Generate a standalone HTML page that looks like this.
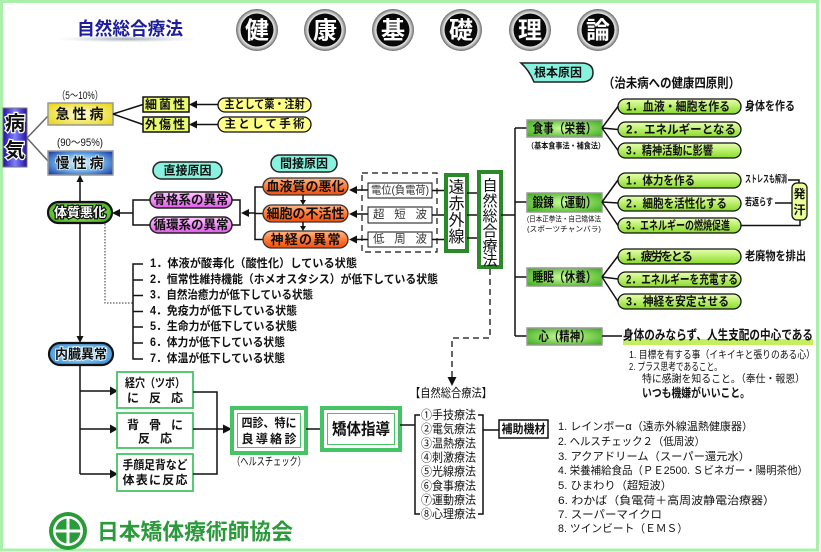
<!DOCTYPE html>
<html>
<head>
<meta charset="utf-8">
<style>
html,body{margin:0;padding:0;background:#fff;}
svg{display:block;}
text{font-family:"Liberation Sans","Noto Sans CJK JP",sans-serif;dominant-baseline:central;fill:#111;}
.b{font-weight:bold;}
.c{text-anchor:middle;}
.ln{stroke:#111;stroke-width:1.5;fill:none;}
</style>
</head>
<body>
<svg width="821" height="552" viewBox="0 0 821 552" xmlns="http://www.w3.org/2000/svg">
<defs>
  <radialGradient id="gy" cx="0.5" cy="0.5" r="0.7"><stop offset="0" stop-color="#ffffe0"/><stop offset="1" stop-color="#e8d400"/></radialGradient>
  <radialGradient id="gb" cx="0.5" cy="0.5" r="0.7"><stop offset="0" stop-color="#e8fbff"/><stop offset="0.5" stop-color="#70b0e8"/><stop offset="1" stop-color="#1030a0"/></radialGradient>
  <linearGradient id="gv" x1="0" y1="0" x2="1" y2="0"><stop offset="0" stop-color="#2010a0"/><stop offset="0.5" stop-color="#8080ff"/><stop offset="1" stop-color="#2010a0"/></linearGradient>
  <radialGradient id="gg" cx="0.5" cy="0.5" r="0.7"><stop offset="0" stop-color="#d0ffa0"/><stop offset="1" stop-color="#38a818"/></radialGradient>
  <linearGradient id="gp" x1="0" y1="0" x2="0" y2="1"><stop offset="0" stop-color="#eaffb0"/><stop offset="1" stop-color="#88dc28"/></linearGradient>
  <linearGradient id="go" x1="0" y1="0" x2="0" y2="1"><stop offset="0" stop-color="#ffb888"/><stop offset="0.5" stop-color="#ff7a38"/><stop offset="1" stop-color="#f05010"/></linearGradient>
  <linearGradient id="gpk" x1="0" y1="0" x2="0" y2="1"><stop offset="0" stop-color="#ffc8ff"/><stop offset="1" stop-color="#e058e8"/></linearGradient>
  <radialGradient id="gdk" cx="0.5" cy="0.5" r="0.7"><stop offset="0" stop-color="#b8ff78"/><stop offset="1" stop-color="#30a010"/></radialGradient>
  <radialGradient id="gbl" cx="0.5" cy="0.5" r="0.7"><stop offset="0" stop-color="#c8f4ff"/><stop offset="1" stop-color="#1c78d0"/></radialGradient>
  <radialGradient id="gs" cx="0.5" cy="0.5" r="0.5"><stop offset="0.78" stop-color="#f4f4f4"/><stop offset="0.9" stop-color="#b0b0b0"/><stop offset="1" stop-color="#666"/></radialGradient>
  <radialGradient id="gsh" cx="0.5" cy="0.5" r="0.5"><stop offset="0" stop-color="#8890a0" stop-opacity="0.8"/><stop offset="1" stop-color="#c0c8d0" stop-opacity="0"/></radialGradient>
</defs>

<!-- frame -->
<rect x="1.5" y="1.5" width="816" height="548.5" fill="#fff" stroke="#aaf0aa" stroke-width="3"/>

<!-- header -->
<ellipse cx="127" cy="39" rx="70" ry="3.5" fill="url(#gsh)"/>
<text x="130" y="29" class="c" style="font-size:18px;fill:#1c1c9c;font-weight:bold" textLength="106" lengthAdjust="spacingAndGlyphs">自然総合療法</text>

<g>
  <circle cx="257" cy="30" r="21" fill="url(#gs)"/><circle cx="257" cy="30" r="16.5" fill="#080808"/>
  <text x="257" y="31" class="c b" style="font-size:24px;fill:#fff">健</text>
  <circle cx="325" cy="30" r="21" fill="url(#gs)"/><circle cx="325" cy="30" r="16.5" fill="#080808"/>
  <text x="325" y="31" class="c b" style="font-size:24px;fill:#fff">康</text>
  <circle cx="393" cy="30" r="21" fill="url(#gs)"/><circle cx="393" cy="30" r="16.5" fill="#080808"/>
  <text x="393" y="31" class="c b" style="font-size:24px;fill:#fff">基</text>
  <circle cx="461" cy="30" r="21" fill="url(#gs)"/><circle cx="461" cy="30" r="16.5" fill="#080808"/>
  <text x="461" y="31" class="c b" style="font-size:24px;fill:#fff">礎</text>
  <circle cx="530" cy="30" r="21" fill="url(#gs)"/><circle cx="530" cy="30" r="16.5" fill="#080808"/>
  <text x="530" y="31" class="c b" style="font-size:24px;fill:#fff">理</text>
  <circle cx="598" cy="30" r="21" fill="url(#gs)"/><circle cx="598" cy="30" r="16.5" fill="#080808"/>
  <text x="598" y="31" class="c b" style="font-size:24px;fill:#fff">論</text>
</g>

<!-- 病気 -->
<rect x="3" y="108" width="24" height="59" fill="url(#gv)" stroke="#777" stroke-width="1"/>
<text x="15" y="124" class="c b" style="font-size:20px;paint-order:stroke;stroke:#fff;stroke-width:2.5">病</text>
<text x="15" y="151" class="c b" style="font-size:20px;paint-order:stroke;stroke:#fff;stroke-width:2.5">気</text>
<path d="M27,138 L48,116 M27,138 L48,161" stroke="#666" stroke-width="1.5" fill="none"/>

<text x="80" y="96" class="c" style="font-size:11px" textLength="46" lengthAdjust="spacingAndGlyphs">（5～10%）</text>
<rect x="48" y="103" width="65" height="22" fill="url(#gy)" stroke="#999" stroke-width="1.5"/>
<text x="81" y="114" class="c b" style="font-size:14px;letter-spacing:3px">急性病</text>

<text x="80" y="143" class="c" style="font-size:11px" textLength="46" lengthAdjust="spacingAndGlyphs">(90～95%)</text>
<rect x="48" y="151" width="65" height="24" fill="url(#gb)" stroke="#999" stroke-width="1.5"/>
<text x="81" y="163" class="c b" style="font-size:14px;letter-spacing:3px;paint-order:stroke;stroke:#e8f8ff;stroke-width:1.5">慢性病</text>

<path class="ln" d="M113,114 L143,104.5 M113,114 L143,124.5"/>
<rect x="143" y="97" width="46" height="15" fill="#e8f870" stroke="#111" stroke-width="1.5"/>
<text x="166" y="104.5" class="c b" style="font-size:12px;letter-spacing:2px">細菌性</text>
<rect x="143" y="117" width="46" height="15" fill="#e8f870" stroke="#111" stroke-width="1.5"/>
<text x="166" y="124.5" class="c b" style="font-size:12px;letter-spacing:2px">外傷性</text>

<path class="ln" d="M218,104.5 H195 M218,124.5 H195"/>
<polygon points="189,104.5 197,100.5 197,108.5" fill="#111"/>
<polygon points="189,124.5 197,120.5 197,128.5" fill="#111"/>
<rect x="218" y="98" width="93" height="14" rx="7" fill="#ffff88" stroke="#111" stroke-width="1.3"/>
<text x="264.5" y="105" class="c b" style="font-size:11.5px" textLength="80" lengthAdjust="spacingAndGlyphs">主として薬・注射</text>
<rect x="218" y="117" width="93" height="15" rx="7.5" fill="#ffff88" stroke="#111" stroke-width="1.3"/>
<text x="264.5" y="124.5" class="c b" style="font-size:11.5px" textLength="80">主として手術</text>

<!-- 直接原因 / 間接原因 -->
<rect x="153" y="162" width="69" height="17" rx="8.5" fill="#88f2de" stroke="#222" stroke-width="1.5"/>
<text x="187.5" y="170.5" class="c b" style="font-size:12px">直接原因</text>
<rect x="271" y="155" width="66" height="17" rx="8.5" fill="#88f2de" stroke="#222" stroke-width="1.5"/>
<text x="304" y="163.5" class="c b" style="font-size:12px">間接原因</text>

<rect x="150" y="192" width="82" height="16" rx="8" fill="url(#gpk)" stroke="#222" stroke-width="1.5"/>
<text x="191" y="200" class="c b" style="font-size:12.5px">骨格系の異常</text>
<rect x="150" y="217" width="82" height="16" rx="8" fill="url(#gpk)" stroke="#222" stroke-width="1.5"/>
<text x="191" y="225" class="c b" style="font-size:12.5px">循環系の異常</text>

<path class="ln" d="M150,200 H133 V225 H150 M133,213 H118"/>
<polygon points="112,213 120,209 120,217" fill="#111"/>
<path class="ln" d="M232,200 H240 V225 H232 M255,213 H248"/>
<polygon points="241,213 249,209 249,217" fill="#111"/>
<path class="ln" d="M263,187 H255 V239.5 H263 M255,213.5 H263"/>

<!-- 体質悪化 -->
<rect x="48" y="202" width="64" height="21" rx="10.5" fill="url(#gdk)" stroke="#111" stroke-width="2.2"/>
<text x="80" y="212.5" class="c b" style="font-size:13px;fill:#fff;paint-order:stroke;stroke:#111;stroke-width:2.5">体質悪化</text>
<path class="ln" d="M80,202 V181"/>
<polygon points="80,175 76.5,182 83.5,182" fill="#111"/>
<path class="ln" d="M80,223 V337"/>
<polygon points="80,343 76.5,336 83.5,336" fill="#111"/>
<path d="M105,224 V303 H133" stroke="#333" stroke-width="1" stroke-dasharray="1.5,1.5" fill="none"/>

<!-- orange pills -->
<rect x="263" y="178" width="85" height="17" rx="8.5" fill="url(#go)" stroke="#333" stroke-width="1.3"/>
<text x="305.5" y="186.5" class="c b" style="font-size:13px">血液質の悪化</text>
<rect x="263" y="205" width="85" height="17" rx="8.5" fill="url(#go)" stroke="#333" stroke-width="1.3"/>
<text x="305.5" y="213.5" class="c b" style="font-size:13px">細胞の不活性</text>
<rect x="263" y="231" width="85" height="17" rx="8.5" fill="url(#go)" stroke="#333" stroke-width="1.3"/>
<text x="305.5" y="239.5" class="c b" style="font-size:13px" textLength="70">神経の異常</text>
<path class="ln" d="M303,195 V201 M303,222 V228" stroke-width="1.2"/>
<polygon points="303,205 300,200 306,200" fill="#111"/>
<polygon points="303,231 300,226 306,226" fill="#111"/>

<!-- dashed box -->
<rect x="362" y="173" width="75" height="79" fill="none" stroke="#111" stroke-width="1.2" stroke-dasharray="6,4"/>
<rect x="368" y="183" width="64" height="15" fill="#fff" stroke="#111" stroke-width="1"/>
<text x="400" y="190.5" class="c" style="font-size:11px;fill:#333" textLength="58" lengthAdjust="spacingAndGlyphs">電位(負電荷)</text>
<rect x="368" y="207" width="64" height="16" fill="#fff" stroke="#111" stroke-width="1"/>
<text x="400" y="215" class="c" style="font-size:11.5px;fill:#333" textLength="54">超短波</text>
<rect x="368" y="232" width="64" height="15" fill="#fff" stroke="#111" stroke-width="1"/>
<text x="400" y="239.5" class="c" style="font-size:11.5px;fill:#333" textLength="54">低周波</text>
<path class="ln" d="M368,190 H356 M368,214 H356 M368,239.5 H356"/>
<polygon points="349,190 357,186 357,194" fill="#111"/>
<polygon points="349,214 357,210 357,218" fill="#111"/>
<polygon points="349,239.5 357,235.5 357,243.5" fill="#111"/>
<path class="ln" d="M432,190.5 H446 M432,215 H446 M432,239.5 H446"/>

<!-- 遠赤外線 -->
<rect x="446" y="175" width="21" height="76" fill="#fff" stroke="#2a8a2a" stroke-width="4"/>
<text x="456.5" y="188" class="c" style="font-size:16px">遠</text>
<text x="456.5" y="204.5" class="c" style="font-size:16px">赤</text>
<text x="456.5" y="221" class="c" style="font-size:16px">外</text>
<text x="456.5" y="237.5" class="c" style="font-size:16px">線</text>
<path class="ln" d="M467,193 H479 M467,215 H479 M467,238 H479"/>

<!-- 自然総合療法 vertical -->
<rect x="479" y="172" width="22" height="95" fill="#fff" stroke="#2a8a2a" stroke-width="4"/>
<text x="490" y="186" class="c" style="font-size:15px">自</text>
<text x="490" y="201.5" class="c" style="font-size:15px">然</text>
<text x="490" y="216.5" class="c" style="font-size:15px">総</text>
<text x="490" y="231.5" class="c" style="font-size:15px">合</text>
<text x="490" y="246.5" class="c" style="font-size:15px">療</text>
<text x="490" y="260.5" class="c" style="font-size:15px">法</text>
<path class="ln" d="M501,215 H515"/>

<!-- dashed to 自然総合療法 list -->
<path d="M490,269 V338 H452 V378" stroke="#111" stroke-width="1.3" stroke-dasharray="6,4" fill="none"/>
<polygon points="452,386 447.5,377 456.5,377" fill="#111"/>

<!-- list of states -->
<path class="ln" d="M143,264 H133 V359 H143 M133,280 H143 M133,295.5 H143 M133,311.5 H143 M133,327 H143 M133,343 H143" stroke-width="1.8"/>
<text x="150" y="264" class="b" style="font-size:11.5px" textLength="207" lengthAdjust="spacingAndGlyphs">1．体液が酸毒化（酸性化）している状態</text>
<text x="150" y="280" class="b" style="font-size:11.5px" textLength="288" lengthAdjust="spacingAndGlyphs">2．恒常性維持機能（ホメオスタシス）が低下している状態</text>
<text x="150" y="295.5" class="b" style="font-size:11.5px" textLength="163" lengthAdjust="spacingAndGlyphs">3．自然治癒力が低下している状態</text>
<text x="150" y="311.5" class="b" style="font-size:11.5px" textLength="147" lengthAdjust="spacingAndGlyphs">4．免疫力が低下している状態</text>
<text x="150" y="327" class="b" style="font-size:11.5px" textLength="147" lengthAdjust="spacingAndGlyphs">5．生命力が低下している状態</text>
<text x="150" y="343" class="b" style="font-size:11.5px" textLength="135" lengthAdjust="spacingAndGlyphs">6．体力が低下している状態</text>
<text x="150" y="359" class="b" style="font-size:11.5px" textLength="135" lengthAdjust="spacingAndGlyphs">7．体温が低下している状態</text>

<!-- 内臓異常 -->
<rect x="49" y="343" width="64" height="22" rx="11" fill="url(#gbl)" stroke="#111" stroke-width="2.2"/>
<text x="81" y="354" class="c b" style="font-size:13px;fill:#111;paint-order:stroke;stroke:#dff4ff;stroke-width:2">内臓異常</text>
<path class="ln" d="M80,365 V474 M80,391 H111 M80,429 H111 M80,474 H111"/>
<polygon points="118,391 110,386.5 110,395.5" fill="#111"/>
<polygon points="118,429 110,424.5 110,433.5" fill="#111"/>
<polygon points="118,474 110,469.5 110,478.5" fill="#111"/>

<rect x="117" y="372" width="76" height="36" fill="#fff" stroke="#44c464" stroke-width="1.8"/>
<text x="155" y="383" class="c b" style="font-size:12px" textLength="60" lengthAdjust="spacingAndGlyphs">経穴（ツボ）</text>
<text x="155" y="398" class="c b" style="font-size:12px" textLength="56">に反応</text>
<rect x="117" y="413" width="76" height="35" fill="#fff" stroke="#44c464" stroke-width="1.8"/>
<text x="155" y="425" class="c b" style="font-size:12px" textLength="56">背骨に</text>
<text x="155" y="438.5" class="c b" style="font-size:12px" textLength="34">反応</text>
<rect x="117" y="454" width="76" height="37" fill="#fff" stroke="#44c464" stroke-width="1.8"/>
<text x="155" y="465" class="c b" style="font-size:12px" textLength="65" lengthAdjust="spacingAndGlyphs">手顔足背など</text>
<text x="155" y="480" class="c b" style="font-size:12px" textLength="65">体表に反応</text>

<path class="ln" d="M193,392 H217 V474 H193 M193,429 H224"/>
<polygon points="232,429 223,424.5 223,433.5" fill="#111"/>

<!-- 四診 -->
<rect x="232" y="408" width="74" height="45" fill="#fff" stroke="#44c464" stroke-width="4"/>
<rect x="237.5" y="413.5" width="63" height="34" fill="#fff" stroke="#44c464" stroke-width="1"/>
<text x="269" y="423" class="c b" style="font-size:12px" textLength="55" lengthAdjust="spacingAndGlyphs">四診、特に</text>
<text x="269" y="439" class="c b" style="font-size:12px" textLength="55">良導絡診</text>
<text x="269" y="462" class="c" style="font-size:11px" textLength="74" lengthAdjust="spacingAndGlyphs">（ヘルスチェック）</text>
<path class="ln" d="M306,429 H322"/>

<!-- 矯体指導 -->
<rect x="322" y="408" width="78" height="42" fill="#fff" stroke="#44c464" stroke-width="4"/>
<rect x="327.5" y="413.5" width="67" height="31" fill="#fff" stroke="#44c464" stroke-width="1"/>
<text x="361" y="430" class="c b" style="font-size:16px" textLength="58" lengthAdjust="spacingAndGlyphs">矯体指導</text>
<path class="ln" d="M400,425 H415"/>

<!-- therapy list -->
<text x="451" y="393" class="c" style="font-size:12px" textLength="82" lengthAdjust="spacingAndGlyphs">【自然総合療法】</text>
<path class="ln" d="M420,415 H415 V514 H420 M478,415 H483 V514 H478 M483,430 H499"/>
<text x="421" y="415" style="font-size:12px" textLength="55" lengthAdjust="spacingAndGlyphs">①手技療法</text>
<text x="421" y="429" style="font-size:12px" textLength="55" lengthAdjust="spacingAndGlyphs">②電気療法</text>
<text x="421" y="443.5" style="font-size:12px" textLength="55" lengthAdjust="spacingAndGlyphs">③温熱療法</text>
<text x="421" y="457.5" style="font-size:12px" textLength="55" lengthAdjust="spacingAndGlyphs">④刺激療法</text>
<text x="421" y="471.5" style="font-size:12px" textLength="55" lengthAdjust="spacingAndGlyphs">⑤光線療法</text>
<text x="421" y="486" style="font-size:12px" textLength="55" lengthAdjust="spacingAndGlyphs">⑥食事療法</text>
<text x="421" y="500" style="font-size:12px" textLength="55" lengthAdjust="spacingAndGlyphs">⑦運動療法</text>
<text x="421" y="514" style="font-size:12px" textLength="55" lengthAdjust="spacingAndGlyphs">⑧心理療法</text>

<rect x="499" y="420" width="49" height="18" fill="#fff" stroke="#111" stroke-width="1.5"/>
<text x="523.5" y="429" class="c b" style="font-size:12px" textLength="44" lengthAdjust="spacingAndGlyphs">補助機材</text>

<!-- equipment list -->
<text x="558" y="427" style="font-size:11px" textLength="195" lengthAdjust="spacingAndGlyphs">1. レインボーα（遠赤外線温熱健康器）</text>
<text x="558" y="442" style="font-size:11px" textLength="147" lengthAdjust="spacingAndGlyphs">2. ヘルスチェック２（低周波）</text>
<text x="558" y="457" style="font-size:11px" textLength="192" lengthAdjust="spacingAndGlyphs">3. アクアドリーム（スーパー還元水）</text>
<text x="558" y="471" style="font-size:11px" textLength="250" lengthAdjust="spacingAndGlyphs">4. 栄養補給食品（ＰＥ2500. Ｓビネガー・陽明茶他）</text>
<text x="558" y="486" style="font-size:11px" textLength="114" lengthAdjust="spacingAndGlyphs">5. ひまわり（超短波）</text>
<text x="558" y="501" style="font-size:11px" textLength="217" lengthAdjust="spacingAndGlyphs">6. わかば（負電荷＋高周波静電治療器）</text>
<text x="558" y="515" style="font-size:11px" textLength="104" lengthAdjust="spacingAndGlyphs">7. スーパーマイクロ</text>
<text x="558" y="529" style="font-size:11px" textLength="130" lengthAdjust="spacingAndGlyphs">8. ツインビート（ＥＭＳ）</text>

<!-- logo -->
<circle cx="68" cy="531" r="19" fill="#2a9a3a"/>
<circle cx="68" cy="531" r="15" fill="#fff"/>
<circle cx="68" cy="531" r="12.5" fill="#2a9a3a"/>
<path d="M55.5,531 H80.5 M68,518.5 V543.5" stroke="#fff" stroke-width="3"/>
<text x="97" y="532" class="b" style="font-size:22px;fill:#2a9a3a" textLength="196" lengthAdjust="spacingAndGlyphs">日本矯体療術師協会</text>

<!-- right side -->
<path d="M521,63 L581,63 Q593,63 593,72.5 Q593,82 581,82 L534,82 Q529,70 521,63 Z" fill="#88f2de" stroke="#222" stroke-width="1.5"/>
<text x="558" y="72.5" class="c b" style="font-size:12px">根本原因</text>
<text x="603" y="83" class="b" style="font-size:13px" textLength="137" lengthAdjust="spacingAndGlyphs">（治未病への健康四原則）</text>

<path class="ln" d="M515,128 V336 M515,128 H527 M515,202 H527 M515,277 H527 M515,336 H527"/>

<!-- 食事 -->
<rect x="527" y="120" width="75" height="17" fill="url(#gg)" stroke="#999" stroke-width="1.5"/>
<text x="564.5" y="128.5" class="c b" style="font-size:13px" textLength="64" lengthAdjust="spacingAndGlyphs">食事（栄養）</text>
<text x="566" y="146" class="c b" style="font-size:8px" textLength="78" lengthAdjust="spacingAndGlyphs">（基本食事法・補食法）</text>
<path class="ln" d="M602,128 L618,106.5 M602,128 L618,129.5 M602,128 L618,150.5"/>
<rect x="618" y="99" width="123" height="15" rx="7.5" fill="url(#gp)" stroke="#111" stroke-width="1.3"/>
<text x="626" y="106.5" class="b" style="font-size:12px" textLength="104" lengthAdjust="spacingAndGlyphs">1．血液・細胞を作る</text>
<rect x="618" y="122" width="123" height="15" rx="7.5" fill="url(#gp)" stroke="#111" stroke-width="1.3"/>
<text x="626" y="129.5" class="b" style="font-size:12px" textLength="110" lengthAdjust="spacingAndGlyphs">2．エネルギーとなる</text>
<rect x="618" y="143" width="123" height="15" rx="7.5" fill="url(#gp)" stroke="#111" stroke-width="1.3"/>
<text x="626" y="150.5" class="b" style="font-size:12px" textLength="87" lengthAdjust="spacingAndGlyphs">3．精神活動に影響</text>
<text x="745" y="106" class="b" style="font-size:12px" textLength="50" lengthAdjust="spacingAndGlyphs">身体を作る</text>

<!-- 鍛錬 -->
<rect x="527" y="193" width="75" height="19" fill="url(#gg)" stroke="#999" stroke-width="1.5"/>
<text x="564.5" y="202.5" class="c b" style="font-size:13px" textLength="64" lengthAdjust="spacingAndGlyphs">鍛錬（運動）</text>
<text x="564" y="219" class="c" style="font-size:7.5px" textLength="74" lengthAdjust="spacingAndGlyphs">(日本正拳法・自己矯体法</text>
<text x="564" y="229" class="c" style="font-size:7.5px" textLength="74" lengthAdjust="spacingAndGlyphs">(スポーツチャンバラ)</text>
<path class="ln" d="M602,202 L618,180 M602,202 L618,203 M602,202 L618,225.5"/>
<rect x="618" y="173" width="123" height="15" rx="7.5" fill="url(#gp)" stroke="#111" stroke-width="1.3"/>
<text x="626" y="180.5" class="b" style="font-size:12px" textLength="69" lengthAdjust="spacingAndGlyphs">1．体力を作る</text>
<rect x="618" y="196" width="123" height="15" rx="7.5" fill="url(#gp)" stroke="#111" stroke-width="1.3"/>
<text x="626" y="203.5" class="b" style="font-size:12px" textLength="101" lengthAdjust="spacingAndGlyphs">2．細胞を活性化する</text>
<rect x="618" y="218" width="123" height="15" rx="7.5" fill="url(#gp)" stroke="#111" stroke-width="1.3"/>
<text x="626" y="225.5" class="b" style="font-size:12px" textLength="104" lengthAdjust="spacingAndGlyphs">3．エネルギーの燃焼促進</text>
<text x="745" y="180" class="b" style="font-size:10px" textLength="42" lengthAdjust="spacingAndGlyphs">ストレスも解消</text>
<text x="745" y="203" class="b" style="font-size:10px" textLength="28" lengthAdjust="spacingAndGlyphs">若返らす</text>
<path class="ln" d="M788,180 H799 V183 M775,203 H792 M741,225.5 H800 V220" stroke-width="1.3"/>
<rect x="792" y="183" width="15" height="37" rx="5" fill="#eaff98" stroke="#111" stroke-width="1.3"/>
<text x="799.5" y="194" class="c b" style="font-size:12px">発</text>
<text x="799.5" y="210" class="c b" style="font-size:12px">汗</text>

<!-- 睡眠 -->
<rect x="527" y="268" width="75" height="18" fill="url(#gg)" stroke="#999" stroke-width="1.5"/>
<text x="564.5" y="277" class="c b" style="font-size:13px" textLength="64" lengthAdjust="spacingAndGlyphs">睡眠（休養）</text>
<path class="ln" d="M602,277 L618,256 M602,277 L618,279 M602,277 L618,301.5"/>
<rect x="618" y="249" width="123" height="15" rx="7.5" fill="url(#gp)" stroke="#111" stroke-width="1.3"/>
<text x="626" y="256.5" class="b" style="font-size:12px" textLength="67">1．疲労をとる</text>
<rect x="618" y="272" width="123" height="15" rx="7.5" fill="url(#gp)" stroke="#111" stroke-width="1.3"/>
<text x="626" y="279.5" class="b" style="font-size:12px" textLength="112" lengthAdjust="spacingAndGlyphs">2．エネルギーを充電する</text>
<rect x="618" y="294" width="123" height="15" rx="7.5" fill="url(#gp)" stroke="#111" stroke-width="1.3"/>
<text x="626" y="301.5" class="b" style="font-size:12px" textLength="103" lengthAdjust="spacingAndGlyphs">3．神経を安定させる</text>
<text x="745" y="256" class="b" style="font-size:12px" textLength="61" lengthAdjust="spacingAndGlyphs">老廃物を排出</text>

<!-- 心 -->
<rect x="527" y="328" width="75" height="17" fill="url(#gg)" stroke="#999" stroke-width="1.5"/>
<text x="564.5" y="336.5" class="c b" style="font-size:13px" textLength="52" lengthAdjust="spacingAndGlyphs">心（精神）</text>
<path class="ln" d="M602,336 H622"/>
<rect x="623" y="339" width="190" height="6" fill="#c4f060"/>
<text x="623" y="335" class="b" style="font-size:13px" textLength="190" lengthAdjust="spacingAndGlyphs">身体のみならず、人生支配の中心である</text>
<text x="629" y="355" style="font-size:10.5px" textLength="186" lengthAdjust="spacingAndGlyphs">1. 目標を有する事（イキイキと張りのある心）</text>
<text x="629" y="367" style="font-size:10.5px" textLength="93" lengthAdjust="spacingAndGlyphs">2. プラス思考であること。</text>
<text x="642" y="379" style="font-size:10.5px" textLength="163" lengthAdjust="spacingAndGlyphs">特に感謝を知ること。（奉仕・報恩）</text>
<text x="642" y="393" class="b" style="font-size:12px" textLength="108" lengthAdjust="spacingAndGlyphs">いつも機嫌がいいこと。</text>
</svg>
</body>
</html>
